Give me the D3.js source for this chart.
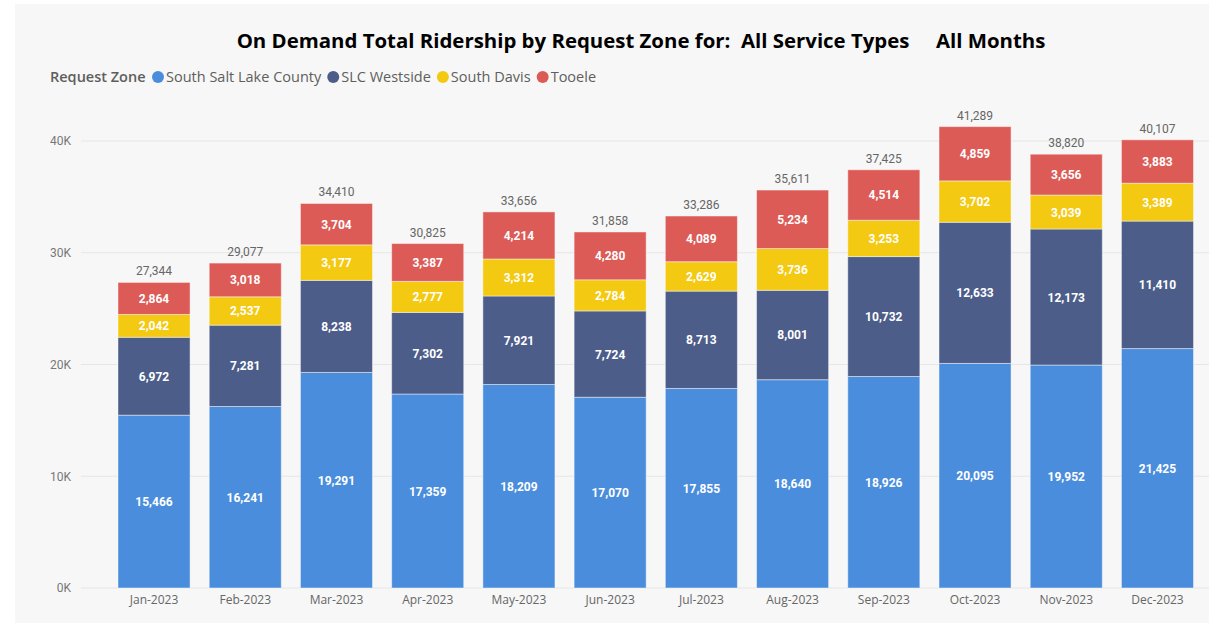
<!DOCTYPE html>
<html>
<head>
<meta charset="utf-8">
<script src="https://cdn.jsdelivr.net/npm/d3@7"></script>
<style>
  html, body { margin: 0; padding: 0; background: #fff; }
  svg text { white-space: pre; }
</style>
</head>
<body>
<svg id="chart" width="1209" height="626"></svg>
<script>
// Data
const months = ['Jan-2023', 'Feb-2023', 'Mar-2023', 'Apr-2023', 'May-2023', 'Jun-2023',
  'Jul-2023', 'Aug-2023', 'Sep-2023', 'Oct-2023', 'Nov-2023', 'Dec-2023'];
const zones = ['South Salt Lake County', 'SLC Westside', 'South Davis', 'Tooele'];
const southSaltLake = [15466, 16241, 19291, 17359, 18209, 17070, 17855, 18640, 18926, 20095, 19952, 21425];
const slcWestside = [6972, 7281, 8238, 7302, 7921, 7724, 8713, 8001, 10732, 12633, 12173, 11410];
const southDavis = [2042, 2537, 3177, 2777, 3312, 2784, 2629, 3736, 3253, 3702, 3039, 3389];
const tooele = [2864, 3018, 3704, 3387, 4214, 4280, 4089, 5234, 4514, 4859, 3656, 3883];
const yTicks = [0, 10000, 20000, 30000, 40000];
const colors = ['#4a8ddc', '#4c5d8a', '#f3c911', '#dc5b57'];

const rows = months.map((m, i) => ({
  month: m,
  [zones[0]]: southSaltLake[i],
  [zones[1]]: slcWestside[i],
  [zones[2]]: southDavis[i],
  [zones[3]]: tooele[i]
}));

const svg = d3.select('#chart');
const fmt = d3.format(',');

// panel background
svg.append('rect').attr('x', 15).attr('y', 4).attr('width', 1194).attr('height', 619).attr('fill', '#f7f7f7');

// title
svg.append('text')
  .attr('x', 641).attr('y', 48)
  .attr('text-anchor', 'middle')
  .attr('font-family', 'Open Sans, Noto Sans, sans-serif')
  .attr('font-weight', 'bold')
  .attr('font-size', '20.4px')
  .attr('fill', '#000')
  .text('On Demand Total Ridership by Request Zone for:  All Service Types     All Months');

// legend
const legend = svg.append('g').attr('font-family', 'Open Sans, Noto Sans, sans-serif').attr('font-size', '14.5px');
legend.append('text').attr('x', 50).attr('y', 82).attr('fill', '#605e5c').attr('font-weight', 600).text('Request Zone');
let lx = 158;
zones.forEach((z, i) => {
  legend.append('circle').attr('cx', lx).attr('cy', 77).attr('r', 6).attr('fill', colors[i]);
  const t = legend.append('text').attr('x', lx + 8).attr('y', 82).attr('fill', '#605e5c').text(z);
  lx += 8 + t.node().getComputedTextLength() + 12;
});

const x = d3.scaleBand().domain(months).range([107.5, 1204]).paddingInner(0.21).paddingOuter(0.115);
const y = d3.scaleLinear().domain([0, 40000]).range([588, 141]);

// gridlines
svg.append('g').selectAll('line').data(yTicks).join('line')
  .attr('x1', 81).attr('x2', 1209)
  .attr('y1', d => y(d)).attr('y2', d => y(d))
  .attr('stroke', '#e6e6e6').attr('stroke-width', 1);

// y axis
const yAxis = svg.append('g').attr('transform', 'translate(71,0)')
  .call(d3.axisLeft(y).tickValues(yTicks).tickFormat(d => (d / 1000) + 'K').tickSize(0).tickPadding(0));
yAxis.select('.domain').remove();
yAxis.selectAll('text').attr('font-family', 'Roboto, sans-serif').attr('font-size', '12px').attr('fill', '#777');

// x axis
const xAxis = svg.append('g').attr('transform', 'translate(0,588)')
  .call(d3.axisBottom(x).tickSize(0).tickPadding(7));
xAxis.select('.domain').remove();
xAxis.selectAll('text').attr('font-family', 'Open Sans, sans-serif').attr('font-size', '12px').attr('fill', '#666');

// stacked bars
const series = d3.stack().keys(zones)(rows);
const groups = svg.append('g').selectAll('g').data(series).join('g')
  .attr('fill', (d, i) => colors[i]);
groups.selectAll('rect').data(d => d).join('rect')
  .attr('x', d => x(d.data.month))
  .attr('width', x.bandwidth())
  .attr('y', d => y(d[1]))
  .attr('height', d => y(d[0]) - y(d[1]))
  .attr('stroke', 'rgba(255,255,255,0.45)')
  .attr('stroke-width', 1);

// segment labels
groups.selectAll('text').data(d => d).join('text')
  .attr('x', d => x(d.data.month) + x.bandwidth() / 2)
  .attr('y', d => (y(d[0]) + y(d[1])) / 2 + 4.5)
  .attr('text-anchor', 'middle')
  .attr('font-family', 'Roboto, sans-serif')
  .attr('font-weight', 'bold')
  .attr('font-size', '12px')
  .attr('fill', '#fff')
  .text(d => fmt(d[1] - d[0]));

// totals
svg.append('g').selectAll('text').data(rows).join('text')
  .attr('x', d => x(d.month) + x.bandwidth() / 2)
  .attr('y', d => y(zones.reduce((s, z) => s + d[z], 0)) - 7)
  .attr('text-anchor', 'middle')
  .attr('font-family', 'Roboto, sans-serif')
  .attr('font-size', '12px')
  .attr('fill', '#666')
  .text(d => fmt(zones.reduce((s, z) => s + d[z], 0)));
</script>
</body>
</html>
